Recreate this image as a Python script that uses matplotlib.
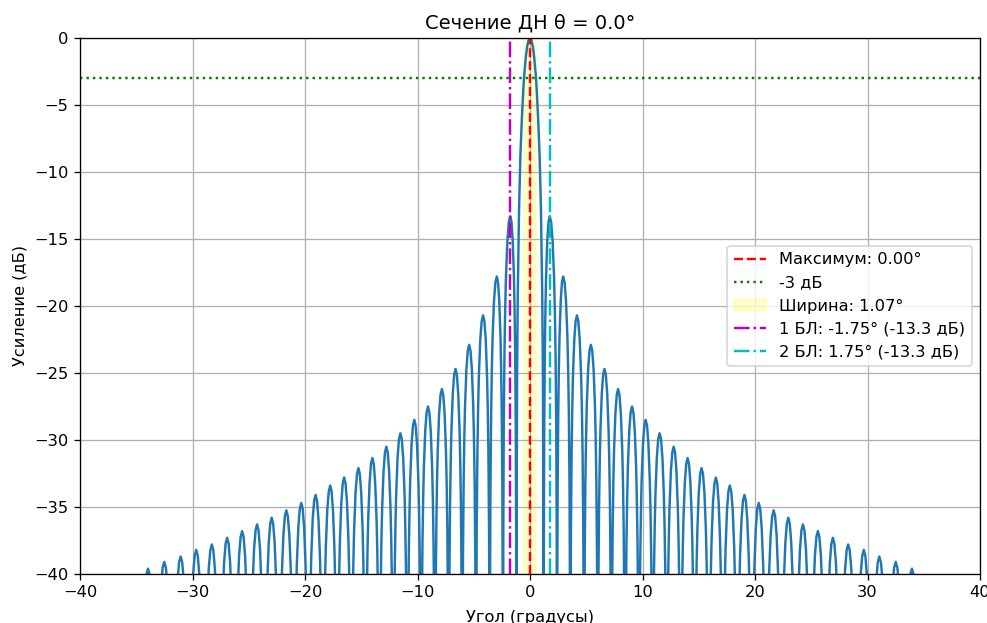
import numpy as np
from matplotlib import pyplot as plt

# Side-lobe peaks on the positive side (pattern is symmetric)
sl_peak_deg = [1.75, 2.95, 4.17, 5.41, 6.62, 7.83, 9.07, 10.28, 11.52, 12.77,
               14.01, 15.25, 16.52, 17.76, 19.06, 20.33, 21.66, 22.96, 24.26,
               25.59, 26.92, 28.28, 29.67, 31.05, 32.51, 33.95]
sl_peak_db = [-13.3, -17.8, -20.7, -22.9, -24.7, -26.2, -27.5, -28.5, -29.5, -30.5,
              -31.35, -32.1, -32.8, -33.4, -34.1, -34.7, -35.25, -35.8, -36.3,
              -36.8, -37.3, -37.8, -38.2, -38.7, -39.1, -39.6]
# Nulls between lobes (first one is the main-lobe edge)
null_deg = [1.21, 2.40, 3.58, 4.80, 6.02, 7.23, 8.45, 9.68, 10.90, 12.15,
            13.39, 14.63, 15.89, 17.14, 18.41, 19.70, 20.99, 22.31, 23.61,
            24.93, 26.26, 27.60, 28.98, 30.36, 31.78, 33.23, 34.67]

# Main lobe: angle from boresight vs gain
main_deg = [0.0, 0.12, 0.24, 0.36, 0.48, 0.535, 0.60, 0.72, 0.85, 0.97, 1.09, 1.15, 1.18, 1.21]
main_db = [0.0, -0.14, -0.58, -1.33, -2.42, -3.0, -3.92, -5.95, -8.68, -12.6, -19.3, -25.6, -33.6, -60.0]

# Side-lobe profile: fraction of the half-lobe from its null, dB below the lobe peak
lobe_frac = [0.0, 0.01, 0.02, 0.04, 0.1, 0.2, 0.3, 0.4, 0.6, 0.8, 1.0]
lobe_drop = [-60.0, -36.0, -30.0, -24.0, -16.1, -10.2, -6.9, -4.6, -1.84, -0.44, 0.0]

peak_deg = 0.0
width_deg = 1.07
level_3db = -3
sl1_deg, sl1_db = -1.75, -13.3
sl2_deg, sl2_db = 1.75, -13.3


def build_half():
	xs = list(main_deg)
	ys = list(main_db)
	for k in range(len(sl_peak_deg)):
		left = null_deg[k]
		right = null_deg[k + 1]
		pk = sl_peak_deg[k]
		lvl = sl_peak_db[k]
		# rising side
		for f, d in zip(lobe_frac[1:], lobe_drop[1:]):
			xs.append(left + f * (pk - left))
			ys.append(lvl + d)
		# falling side
		for f, d in zip(lobe_frac[-2::-1], lobe_drop[-2::-1]):
			xs.append(right - f * (right - pk))
			ys.append(lvl + d)
	return np.array(xs), np.array(ys)


x_half, y_half = build_half()
angles = np.concatenate([-x_half[:0:-1], x_half])
gain = np.concatenate([y_half[:0:-1], y_half])

# the reference was rendered at a larger scale than the default 100 dpi
dpi = 117
fig = plt.figure(figsize=(987 / dpi, 623 / dpi), dpi=dpi)
ax = fig.add_axes([80 / 987, (623 - 574) / 623, (980 - 80) / 987, (574 - 38) / 623])

ax.plot(angles, gain, color='C0', linewidth=1.5)
ax.axvline(peak_deg, color='r', linestyle='--', label='Максимум: %.2f°' % peak_deg)
ax.axhline(level_3db, color='g', linestyle=':', label='-3 дБ')
ax.axvspan(peak_deg - width_deg / 2, peak_deg + width_deg / 2, color='yellow', alpha=0.2,
		   label='Ширина: %.2f°' % width_deg)
ax.axvline(sl1_deg, color='m', linestyle='-.', label='1 БЛ: %.2f° (%.1f дБ)' % (sl1_deg, sl1_db))
ax.axvline(sl2_deg, color='c', linestyle='-.', label='2 БЛ: %.2f° (%.1f дБ)' % (sl2_deg, sl2_db))

ax.set_xlim(-40, 40)
ax.set_ylim(-40, 0)
ax.grid(True)
ax.set_title('Сечение ДН θ = 0.0°')
ax.set_xlabel('Угол (градусы)', labelpad=6)
ax.set_ylabel('Усиление (дБ)')
ax.legend(loc='center right')

fig.savefig('out.png', dpi=dpi)
